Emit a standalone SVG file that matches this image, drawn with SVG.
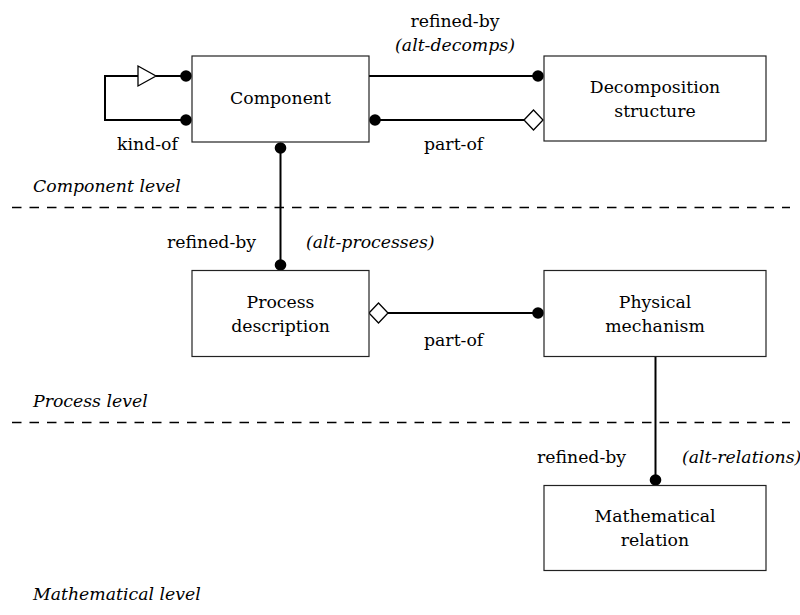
<svg xmlns="http://www.w3.org/2000/svg" width="800" height="615" viewBox="0 0 800 615">
<style>
text{font-family:"DejaVu Serif",serif;font-size:17.3px;fill:#000}
.i{font-style:italic}
.m{text-anchor:middle}
.box{fill:#fff;stroke:#222;stroke-width:1.2}
.ln{fill:none;stroke:#000;stroke-width:2}
.dash{fill:none;stroke:#000;stroke-width:1.3;stroke-dasharray:9.5 8}
.dot{fill:#000}
.hollow{fill:#fff;stroke:#000;stroke-width:1.3}
</style>
<rect width="800" height="615" fill="#fff"/>
<g id="levels">
<line class="dash" x1="12" y1="207.5" x2="790" y2="207.5"/>
<line class="dash" x1="12" y1="422.5" x2="790" y2="422.5"/>
<text class="i" x="33" y="192">Component level</text>
<text class="i" x="33" y="407">Process level</text>
<text class="i" x="33" y="600">Mathematical level</text>
</g>
<g id="connectors">
<path class="ln" d="M138,76 H105 V120 H186"/>
<line class="ln" x1="156" y1="76" x2="186" y2="76"/>
<polygon class="hollow" points="138,66 156,76 138,86"/>
<circle class="dot" cx="186" cy="76" r="5.8"/>
<circle class="dot" cx="186" cy="120" r="5.8"/>
<text x="117" y="150">kind-of</text>
<line class="ln" x1="369" y1="76" x2="538" y2="76"/>
<circle class="dot" cx="538" cy="76" r="5.8"/>
<text class="m" x="455" y="27">refined-by</text>
<text class="m i" x="455" y="51">(alt-decomps)</text>
<line class="ln" x1="375" y1="120" x2="524" y2="120"/>
<circle class="dot" cx="375" cy="120" r="5.8"/>
<polygon class="hollow" points="524,120 533.5,110 543,120 533.5,130"/>
<text x="424" y="150">part-of</text>
<line class="ln" x1="280.5" y1="148" x2="280.5" y2="265"/>
<circle class="dot" cx="280.5" cy="148" r="5.8"/>
<circle class="dot" cx="280.5" cy="265" r="5.8"/>
<text x="167" y="248">refined-by</text>
<text class="i" x="306" y="248">(alt-processes)</text>
<line class="ln" x1="388" y1="313" x2="538" y2="313"/>
<polygon class="hollow" points="369,313 378.5,303 388,313 378.5,323"/>
<circle class="dot" cx="538" cy="313" r="5.8"/>
<text x="424" y="346">part-of</text>
<line class="ln" x1="655.5" y1="357" x2="655.5" y2="480"/>
<circle class="dot" cx="655.5" cy="480" r="5.8"/>
<text x="537" y="463">refined-by</text>
<text class="i" x="682" y="463">(alt-relations)</text>
</g>
<g id="component">
<rect class="box" x="192" y="56" width="177" height="86"/>
<text class="m" x="280.5" y="104">Component</text>
</g>
<g id="decomposition">
<rect class="box" x="544" y="56" width="222" height="85"/>
<text class="m" x="655" y="93">Decomposition</text>
<text class="m" x="655" y="117">structure</text>
</g>
<g id="process">
<rect class="box" x="192" y="270.5" width="177" height="86"/>
<text class="m" x="280.5" y="307.5">Process</text>
<text class="m" x="280.5" y="331.5">description</text>
</g>
<g id="physical">
<rect class="box" x="544" y="270.5" width="222" height="86"/>
<text class="m" x="655" y="308">Physical</text>
<text class="m" x="655" y="331.5">mechanism</text>
</g>
<g id="mathematical">
<rect class="box" x="544" y="485.5" width="222" height="85"/>
<text class="m" x="655" y="522">Mathematical</text>
<text class="m" x="655" y="546">relation</text>
</g>
</svg>
